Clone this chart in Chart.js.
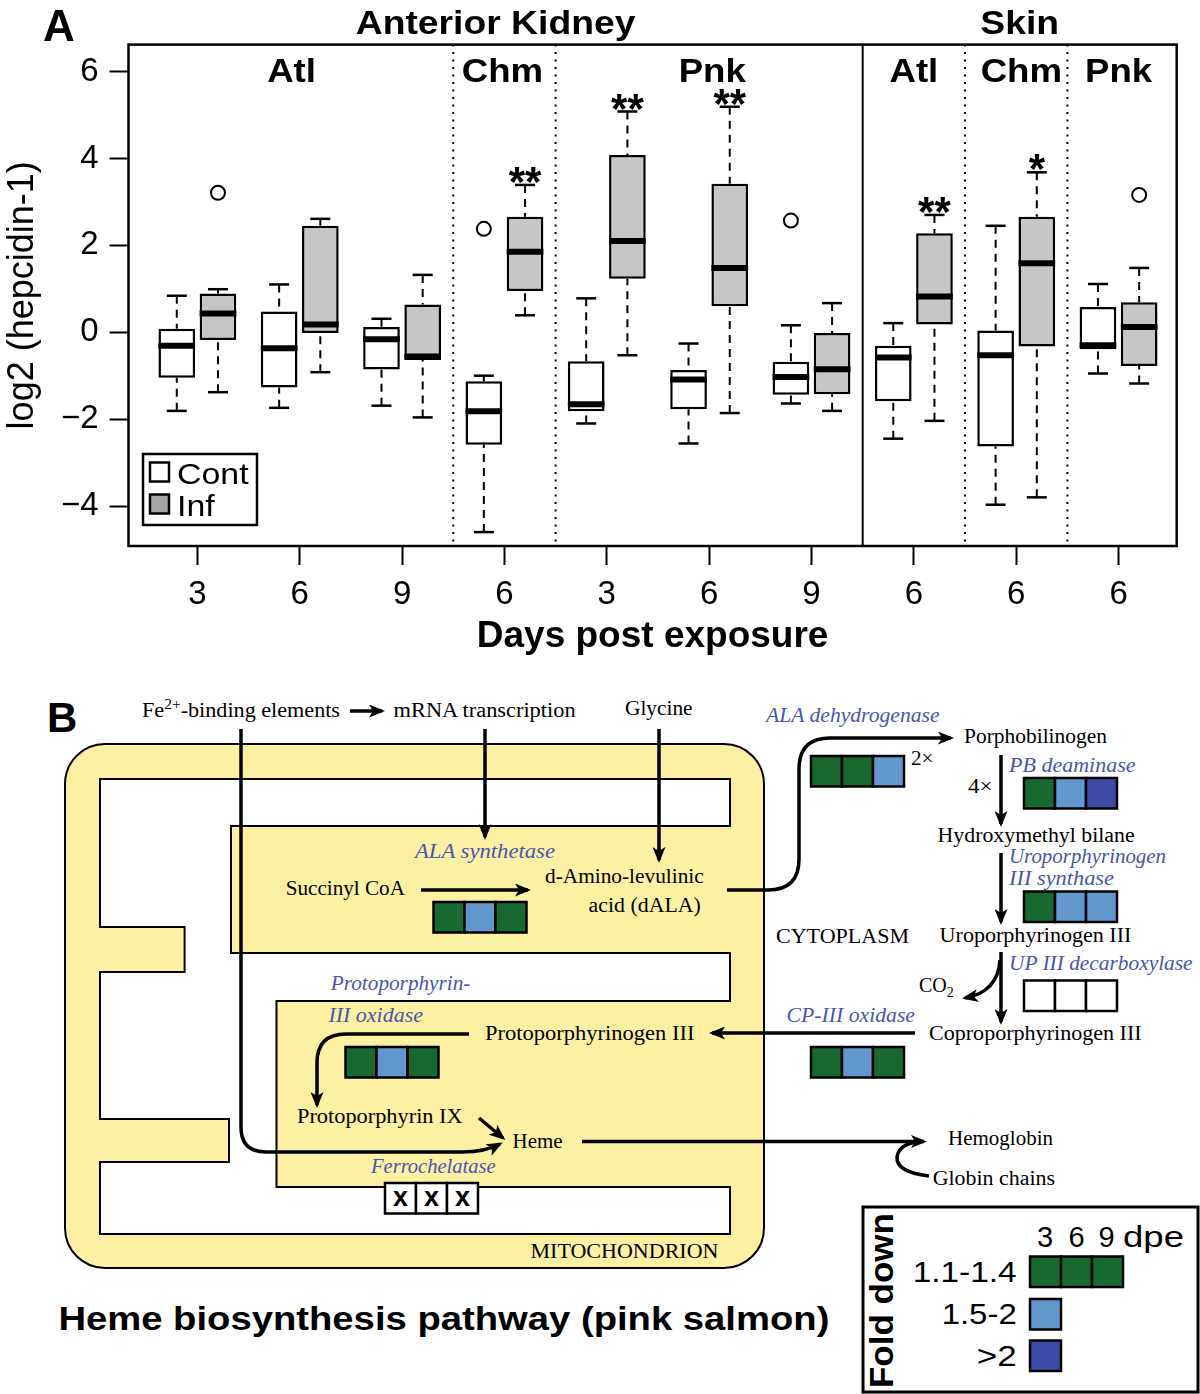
<!DOCTYPE html>
<html>
<head>
<meta charset="UTF-8">
<script src="https://cdn.jsdelivr.net/npm/chart.js@4.4.1/dist/chart.umd.min.js"></script>
<style>
  body { margin: 0; background: #fff; }
  #page { position: relative; width: 1200px; height: 1394px; overflow: hidden; }
  #hepcidin { position: absolute; left: 0; top: 0; }
  #pathway { position: absolute; left: 0; top: 670px; }
  .sr { font-family: 'Liberation Serif', serif; font-size: 20px; fill: #000; }
  .en { font-family: 'Liberation Serif', serif; font-style: italic; font-size: 20px; fill: #4b54ae; }
  .sn { font-family: 'Liberation Sans', Arial, sans-serif; fill: #000; }
</style>
<script>
// ---- panel A data: hepcidin-1 expression, Cont vs Inf boxes ----
var catPos = [1, 2, 3, 4, 5, 6, 7, 8, 9, 10];
var dayLabels = ['3', '6', '9', '6', '3', '6', '9', '6', '6', '6'];
var speciesLabels = ['Atl', 'Chm', 'Pnk', 'Atl', 'Chm', 'Pnk'];
var speciesPos = [1.92, 3.98, 6.03, 8, 9.05, 10];
var speciesBreaks = [3.5, 4.5, 8.5, 9.5];
var tissueLabels = ['Anterior Kidney', 'Skin'];
var tissueBreaks = [7.5];
var yTicks = [-4, -2, 0, 2, 4, 6];

var contLow  = [-1.81, -1.74, -1.69, -4.60, -2.10, -2.56, -1.64, -2.45, -3.97, -0.95];
var contQ1   = [-1.05, -1.27, -0.86, -2.59, -1.82, -1.77, -1.44, -1.59, -2.63, -0.39];
var contMed  = [-0.31, -0.37, -0.16, -1.82, -1.66, -1.09, -1.03, -0.58, -0.53, -0.30];
var contQ3   = [0.08, 0.48, 0.12, -1.13, -0.67, -0.87, -0.68, -0.31, 0.04, 0.58];
var contHigh = [0.84, 1.10, 0.31, -1.00, 0.78, -0.26, 0.16, 0.21, 2.45, 1.11];
var contOut  = [null, null, null, 2.38, null, null, 2.57, null, null, null];
var contSig  = ['', '', '', '', '', '', '', '', '', ''];

var infLow  = [-1.38, -0.92, -1.96, 0.39, -0.53, -1.86, -1.81, -2.04, -3.80, -1.18];
var infQ1   = [-0.18, -0.02, -0.64, 0.95, 1.23, 0.60, -1.43, 0.18, -0.33, -0.78];
var infMed  = [0.43, 0.18, -0.56, 1.85, 2.10, 1.48, -0.85, 0.82, 1.59, 0.12];
var infQ3   = [0.89, 2.45, 0.64, 2.66, 4.08, 3.42, -0.02, 2.28, 2.66, 0.69];
var infHigh = [0.99, 2.61, 1.32, 3.39, 5.08, 5.19, 0.67, 2.70, 3.68, 1.48];
var infOut  = [3.21, null, null, null, null, null, null, null, null, 3.16];
var infSig  = ['', '', '', '**', '**', '**', '', '**', '*', ''];

// ---- panel B data: fold down per enzyme at 3, 6, 9 dpe ----
var enzymes = ['ALA synthetase', 'ALA dehydrogenase', 'PB deaminase', 'Uroporphyrinogen III synthase',
               'UP III decarboxylase', 'CP-III oxidase', 'Protoporphyrin-III oxidase', 'Ferrochelatase'];
var enzymeFold = [['g', 'l', 'g'], ['g', 'g', 'l'], ['g', 'l', 'd'], ['g', 'l', 'l'],
                  ['w', 'w', 'w'], ['g', 'l', 'g'], ['g', 'l', 'g'], ['x', 'x', 'x']];
var foldLevels = ['1.1-1.4', '1.5-2', '>2'];
var foldCodes = ['g', 'l', 'd'];
var foldDays = ['3', '6', '9'];
</script>
</head>
<body>
<div id="page">
<canvas id="hepcidin" width="1200" height="670"></canvas>

<svg id="pathway" width="1200" height="724" viewBox="0 670 1200 724" xmlns="http://www.w3.org/2000/svg">
  <defs>
    <marker id="ah" markerUnits="userSpaceOnUse" markerWidth="16" markerHeight="13" refX="13" refY="6.5" orient="auto">
      <path d="M0,0 L16,6.5 L0,13 L4,6.5 Z" fill="#000"/>
    </marker>
  </defs>
  <rect x="65" y="744" width="699" height="524" rx="40" ry="40" fill="#fcf0a2" stroke="#000" stroke-width="2"/>
  <polygon points="100,779 730,779 730,826 231,826 231,953 730,953 730,1001 276.5,1001 276.5,1187 730,1187 730,1234 100,1234 100,1162 229,1162 229,1119 100,1119 100,972 184.6,972 184.6,927 100,927"
           fill="#fff" stroke="#000" stroke-width="2"/>
  <g fill="none" stroke="#000" stroke-width="3.5">
    <path d="M350 711 H382" marker-end="url(#ah)"/>
    <path d="M241 729 V1127 Q241 1152 266 1152 H462 Q485 1152 500 1144" marker-end="url(#ah)"/>
    <path d="M485 729 V837" marker-end="url(#ah)"/>
    <path d="M659 729 V860" marker-end="url(#ah)"/>
    <path d="M421 890 H528" marker-end="url(#ah)"/>
    <path d="M727 890 H768 Q799 890 799 859 V769 Q799 738 830 738 H951" marker-end="url(#ah)"/>
    <path d="M1001 755 V824" marker-end="url(#ah)"/>
    <path d="M1001 853 V922" marker-end="url(#ah)"/>
    <path d="M1001 952 V1022" marker-end="url(#ah)"/>
    <path d="M1000 960 Q998 992 965 998" marker-end="url(#ah)"/>
    <path d="M915 1033 H712" marker-end="url(#ah)"/>
    <path d="M469 1034 H346 Q317 1034 317 1063 V1105" marker-end="url(#ah)"/>
    <path d="M479 1118 L503 1138" marker-end="url(#ah)"/>
    <path d="M582 1141.5 H924" marker-end="url(#ah)"/>
    <path d="M929 1176 Q896 1172 897 1157 Q899 1144 918 1142"/>
  </g>

  <text class="sn" x="47" y="732" font-size="42" font-weight="bold">B</text>

  <text class="sr" x="142" y="716.7" textLength="198" lengthAdjust="spacingAndGlyphs">Fe<tspan dy="-8" font-size="14">2+</tspan><tspan dy="8">-binding elements</tspan></text>
  <text class="sr" x="393.6" y="716.7" textLength="182" lengthAdjust="spacingAndGlyphs">mRNA transcription</text>
  <text class="sr" x="625" y="715" textLength="67.6" lengthAdjust="spacingAndGlyphs">Glycine</text>
  <text class="en" x="766" y="721.7" textLength="173.6" lengthAdjust="spacingAndGlyphs">ALA dehydrogenase</text>
  <text class="en" x="415" y="858" textLength="140" lengthAdjust="spacingAndGlyphs">ALA synthetase</text>
  <text class="sr" x="285.7" y="895" textLength="119.3" lengthAdjust="spacingAndGlyphs">Succinyl CoA</text>
  <text class="sr" x="545" y="883" textLength="158.7" lengthAdjust="spacingAndGlyphs">d-Amino-levulinic</text>
  <text class="sr" x="588.6" y="911.7" textLength="112.2" lengthAdjust="spacingAndGlyphs">acid (dALA)</text>
  <text class="sr" x="911" y="765" textLength="22.5" lengthAdjust="spacingAndGlyphs">2×</text>
  <text class="sr" x="964" y="743" textLength="143" lengthAdjust="spacingAndGlyphs">Porphobilinogen</text>
  <text class="sr" x="968" y="793" textLength="24.6" lengthAdjust="spacingAndGlyphs">4×</text>
  <text class="en" x="1009" y="771.7" textLength="126.5" lengthAdjust="spacingAndGlyphs">PB deaminase</text>
  <text class="sr" x="937.6" y="841.7" textLength="197" lengthAdjust="spacingAndGlyphs">Hydroxymethyl bilane</text>
  <text class="en" x="1009" y="863" textLength="157" lengthAdjust="spacingAndGlyphs">Uroporphyrinogen</text>
  <text class="en" x="1009" y="885" textLength="105" lengthAdjust="spacingAndGlyphs">III synthase</text>
  <text class="sr" x="939.6" y="941.7" textLength="191.8" lengthAdjust="spacingAndGlyphs">Uroporphyrinogen III</text>
  <text class="sr" x="776" y="943" textLength="133" lengthAdjust="spacingAndGlyphs">CYTOPLASM</text>
  <text class="sr" x="919" y="992">CO<tspan dy="5" font-size="14">2</tspan></text>
  <text class="en" x="1009" y="970" textLength="183.6" lengthAdjust="spacingAndGlyphs">UP III decarboxylase</text>
  <text class="sr" x="929" y="1040" textLength="212.6" lengthAdjust="spacingAndGlyphs">Coproporphyrinogen III</text>
  <text class="en" x="786.5" y="1021.7" textLength="128.5" lengthAdjust="spacingAndGlyphs">CP-III oxidase</text>
  <text class="sr" x="485" y="1040" textLength="209.4" lengthAdjust="spacingAndGlyphs">Protoporphyrinogen III</text>
  <text class="en" x="330.8" y="990" textLength="139.6" lengthAdjust="spacingAndGlyphs">Protoporphyrin-</text>
  <text class="en" x="328.4" y="1021.7" textLength="94.6" lengthAdjust="spacingAndGlyphs">III oxidase</text>
  <text class="sr" x="297" y="1123" textLength="165.7" lengthAdjust="spacingAndGlyphs">Protoporphyrin IX</text>
  <text class="sr" x="512.6" y="1148" textLength="50" lengthAdjust="spacingAndGlyphs">Heme</text>
  <text class="sr" x="948" y="1145" textLength="105" lengthAdjust="spacingAndGlyphs">Hemoglobin</text>
  <text class="sr" x="932.7" y="1185" textLength="122.3" lengthAdjust="spacingAndGlyphs">Globin chains</text>
  <text class="en" x="371" y="1173" textLength="124.6" lengthAdjust="spacingAndGlyphs">Ferrochelatase</text>
  <text class="sr" x="530.5" y="1258" textLength="188" lengthAdjust="spacingAndGlyphs">MITOCHONDRION</text>

  <text class="sn" x="58.4" y="1330" font-size="34" font-weight="bold" textLength="771" lengthAdjust="spacingAndGlyphs">Heme biosynthesis pathway (pink salmon)</text>

  <rect x="863" y="1207" width="335" height="185" fill="#fff" stroke="#000" stroke-width="3"/>
  <text class="sn" transform="translate(893,1300.6) rotate(-90)" text-anchor="middle" font-size="33" font-weight="bold" textLength="175" lengthAdjust="spacingAndGlyphs">Fold down</text>
</svg>
</div>

<script>
// ---- panel A: boxplots from floating bars + whisker plugin ----
function stretchText(ctx, txt, x, base, font, sx, align) {
    ctx.save();
    ctx.font = font;
    ctx.fillStyle = '#000';
    ctx.textAlign = align || 'center';
    ctx.textBaseline = 'alphabetic';
    ctx.translate(x, base);
    ctx.scale(sx, 1);
    ctx.fillText(txt, 0, 0);
    ctx.restore();
}

function line(ctx, x1, y1, x2, y2) {
    ctx.beginPath();
    ctx.moveTo(x1, y1);
    ctx.lineTo(x2, y2);
    ctx.stroke();
}

var boxPlot = {
    id: 'boxPlot',
    beforeDatasetsDraw: function(chart) {
        var ctx = chart.ctx, area = chart.chartArea, xs = chart.scales.x, ys = chart.scales.y;
        ctx.save();
        ctx.strokeStyle = '#000';
        // dotted species separators
        ctx.lineWidth = 2;
        ctx.setLineDash([2, 5.5]);
        speciesBreaks.forEach(function(b) {
            var px = xs.getPixelForValue(b);
            line(ctx, px, area.top, px, area.bottom);
        });
        ctx.setLineDash([]);
        // whiskers
        chart.data.datasets.forEach(function(ds, d) {
            chart.getDatasetMeta(d).data.forEach(function(bar, j) {
                var x = bar.x;
                var yq1 = ys.getPixelForValue(ds.data[j].y[0]);
                var yq3 = ys.getPixelForValue(ds.data[j].y[1]);
                var ylo = ys.getPixelForValue(ds.low[j]);
                var yhi = ys.getPixelForValue(ds.high[j]);
                ctx.lineWidth = 2;
                ctx.setLineDash([8, 6]);
                line(ctx, x, yhi, x, yq3);
                line(ctx, x, ylo, x, yq1);
                ctx.setLineDash([]);
                ctx.lineWidth = 2.5;
                line(ctx, x - 10, yhi, x + 10, yhi);
                line(ctx, x - 10, ylo, x + 10, ylo);
            });
        });
        ctx.restore();
    },
    afterDatasetsDraw: function(chart) {
        var ctx = chart.ctx, ys = chart.scales.y;
        ctx.save();
        ctx.strokeStyle = '#000';
        chart.data.datasets.forEach(function(ds, d) {
            chart.getDatasetMeta(d).data.forEach(function(bar, j) {
                var x = bar.x, w = bar.width;
                ctx.lineWidth = 6;
                ctx.lineCap = 'butt';
                var ym = ys.getPixelForValue(ds.med[j]);
                line(ctx, x - w / 2, ym, x + w / 2, ym);
                if (ds.out[j] !== null) {
                    ctx.lineWidth = 2;
                    ctx.beginPath();
                    ctx.arc(x, ys.getPixelForValue(ds.out[j]), 7, 0, Math.PI * 2);
                    ctx.stroke();
                }
                if (ds.sig[j]) {
                    var yhi = ys.getPixelForValue(ds.high[j]);
                    ctx.font = 'bold 42px "Liberation Sans"';
                    ctx.fillStyle = '#000';
                    ctx.textAlign = 'center';
                    ctx.textBaseline = 'alphabetic';
                    ctx.fillText(ds.sig[j], x, yhi + 11);
                }
            });
        });
        ctx.restore();
    },
    afterDraw: function(chart) {
        var ctx = chart.ctx, area = chart.chartArea, xs = chart.scales.x;
        ctx.save();
        ctx.strokeStyle = '#000';
        ctx.lineWidth = 2.5;
        ctx.strokeRect(area.left, area.top, area.right - area.left, area.bottom - area.top);
        ctx.lineWidth = 2;
        tissueBreaks.forEach(function(b) {
            var px = xs.getPixelForValue(b);
            line(ctx, px, area.top, px, area.bottom);
        });
        // tissue and species headings
        var edges = [area.left].concat(tissueBreaks.map(function(b) { return xs.getPixelForValue(b); }), [area.right]);
        tissueLabels.forEach(function(t, i) {
            stretchText(ctx, t, (edges[i] + edges[i + 1]) / 2, 34, 'bold 33px "Liberation Sans"', 1.13);
        });
        speciesLabels.forEach(function(s, i) {
            stretchText(ctx, s, xs.getPixelForValue(speciesPos[i]), 82, 'bold 33px "Liberation Sans"', 1.11);
        });
        // panel letter
        stretchText(ctx, 'A', 59, 41, 'bold 44px "Liberation Sans"', 1.0);
        // legend
        ctx.lineWidth = 2.5;
        ctx.strokeRect(143, 454, 114, 71);
        var keyFill = ['#ffffff', '#a6a6a6'];
        chart.data.datasets.forEach(function(ds, d) {
            var top = d === 0 ? 462.5 : 494.5;
            ctx.fillStyle = keyFill[d];
            ctx.fillRect(150, top, 19, 19);
            ctx.lineWidth = 2.5;
            ctx.strokeRect(150, top, 19, 19);
            stretchText(ctx, ds.label, 177, top + 21, '30px "Liberation Sans"', 1.13, 'left');
        });
        ctx.restore();
    }
};

function boxData(q1, q3) {
    return catPos.map(function(p, i) { return { x: p, y: [q1[i], q3[i]] }; });
}

var ctx = document.getElementById('hepcidin').getContext('2d');
var hepChart = new Chart(ctx, {
    type: 'bar',
    data: {
        datasets: [{
            label: 'Cont',
            data: boxData(contQ1, contQ3),
            low: contLow, med: contMed, high: contHigh, out: contOut, sig: contSig,
            backgroundColor: '#ffffff',
            borderColor: '#000',
            borderWidth: 2.5,
            borderSkipped: false,
            categoryPercentage: 0.805,
            barPercentage: 0.89
        }, {
            label: 'Inf',
            data: boxData(infQ1, infQ3),
            low: infLow, med: infMed, high: infHigh, out: infOut, sig: infSig,
            backgroundColor: '#c6c6c6',
            borderColor: '#000',
            borderWidth: 2.5,
            borderSkipped: false,
            categoryPercentage: 0.805,
            barPercentage: 0.89
        }]
    },
    options: {
        responsive: false,
        animation: false,
        devicePixelRatio: 1,
        layout: { padding: { left: 0, top: 44.6, right: 23.3, bottom: 0 } },
        plugins: { legend: { display: false }, tooltip: { enabled: false } },
        scales: {
            x: {
                type: 'linear',
                min: 0.327,
                max: 10.568,
                offset: false,
                afterBuildTicks: function(s) { s.ticks = catPos.map(function(v) { return { value: v }; }); },
                afterFit: function(s) { s.height = 124; },
                border: { display: false },
                grid: { drawOnChartArea: false, drawTicks: true, tickLength: 19, tickWidth: 2, tickColor: '#000', offset: false },
                ticks: {
                    callback: function(v) { return dayLabels[catPos.indexOf(v)]; },
                    font: { family: 'Liberation Sans', size: 33 },
                    color: '#000',
                    padding: 10,
                    maxRotation: 0,
                    autoSkip: false
                },
                title: {
                    display: true,
                    text: 'Days post exposure',
                    font: { family: 'Liberation Sans', size: 37, weight: 'bold' },
                    color: '#000',
                    padding: { top: 0, bottom: 11 }
                }
            },
            y: {
                type: 'linear',
                min: -4.92,
                max: 6.62,
                beginAtZero: false,
                afterBuildTicks: function(s) { s.ticks = yTicks.map(function(v) { return { value: v }; }); },
                afterFit: function(s) { s.width = 128.5; },
                border: { display: false },
                grid: { drawOnChartArea: false, drawTicks: true, tickLength: 19, tickWidth: 2, tickColor: '#000' },
                ticks: {
                    callback: function(v) { return v < 0 ? '\u2212' + Math.abs(v) : String(v); },
                    font: { family: 'Liberation Sans', size: 33 },
                    color: '#000',
                    padding: 11
                },
                title: {
                    display: true,
                    text: 'log2 (hepcidin-1)',
                    font: { family: 'Liberation Sans', size: 36 },
                    color: '#000',
                    padding: { top: 1, bottom: 0 }
                }
            }
        }
    },
    plugins: [boxPlot]
});

// ---- panel B cells: fold-down boxes per enzyme ----
var SVGNS = 'http://www.w3.org/2000/svg';
var svg = document.getElementById('pathway');
var foldColor = { g: '#17692f', l: '#6398cf', d: '#3f49a6', w: '#ffffff', x: '#ffffff' };
var cellW = 31, cellH = 30.5;
var cellAnchors = [[433.5, 902], [811, 756], [1024, 778], [1024, 891.5], [1024, 980.5], [811, 1047], [345.5, 1047], [385, 1183]];

function svgEl(tag, attrs, txt) {
    var el = document.createElementNS(SVGNS, tag);
    for (var k in attrs) el.setAttribute(k, attrs[k]);
    if (txt !== undefined) el.textContent = txt;
    svg.appendChild(el);
    return el;
}

function cellRow(codes, x0, y0) {
    codes.forEach(function(c, i) {
        var x = x0 + i * cellW;
        svgEl('rect', { x: x, y: y0, width: cellW, height: cellH, fill: foldColor[c], stroke: '#000', 'stroke-width': 2.5 });
        if (c === 'x') {
            svgEl('text', { x: x + cellW / 2, y: y0 + 23, 'text-anchor': 'middle', 'class': 'sn',
                            'font-size': 27, 'font-weight': 'bold' }, 'x');
        }
    });
}

enzymeFold.forEach(function(codes, i) {
    cellRow(codes, cellAnchors[i][0], cellAnchors[i][1]);
});

// fold legend
var dayX = [1045, 1076.5, 1106.5];
foldDays.forEach(function(d, i) {
    svgEl('text', { x: dayX[i], y: 1247, 'text-anchor': 'middle', 'class': 'sn', 'font-size': 29 }, d);
});
svgEl('text', { x: 1123, y: 1247, 'class': 'sn', 'font-size': 29, textLength: 61, lengthAdjust: 'spacingAndGlyphs' }, 'dpe');
var levelY = [1256.5, 1299, 1340.5];
var levelLen = [104, 75, 40];
foldLevels.forEach(function(lv, i) {
    var row = i === 0 ? [foldCodes[0], foldCodes[0], foldCodes[0]] : [foldCodes[i]];
    cellRow(row, 1030, levelY[i]);
    svgEl('text', { x: 1016.7, y: levelY[i] + 25, 'text-anchor': 'end', 'class': 'sn', 'font-size': 30,
                    textLength: levelLen[i], lengthAdjust: 'spacingAndGlyphs' }, lv);
});
</script>
</body>
</html>
